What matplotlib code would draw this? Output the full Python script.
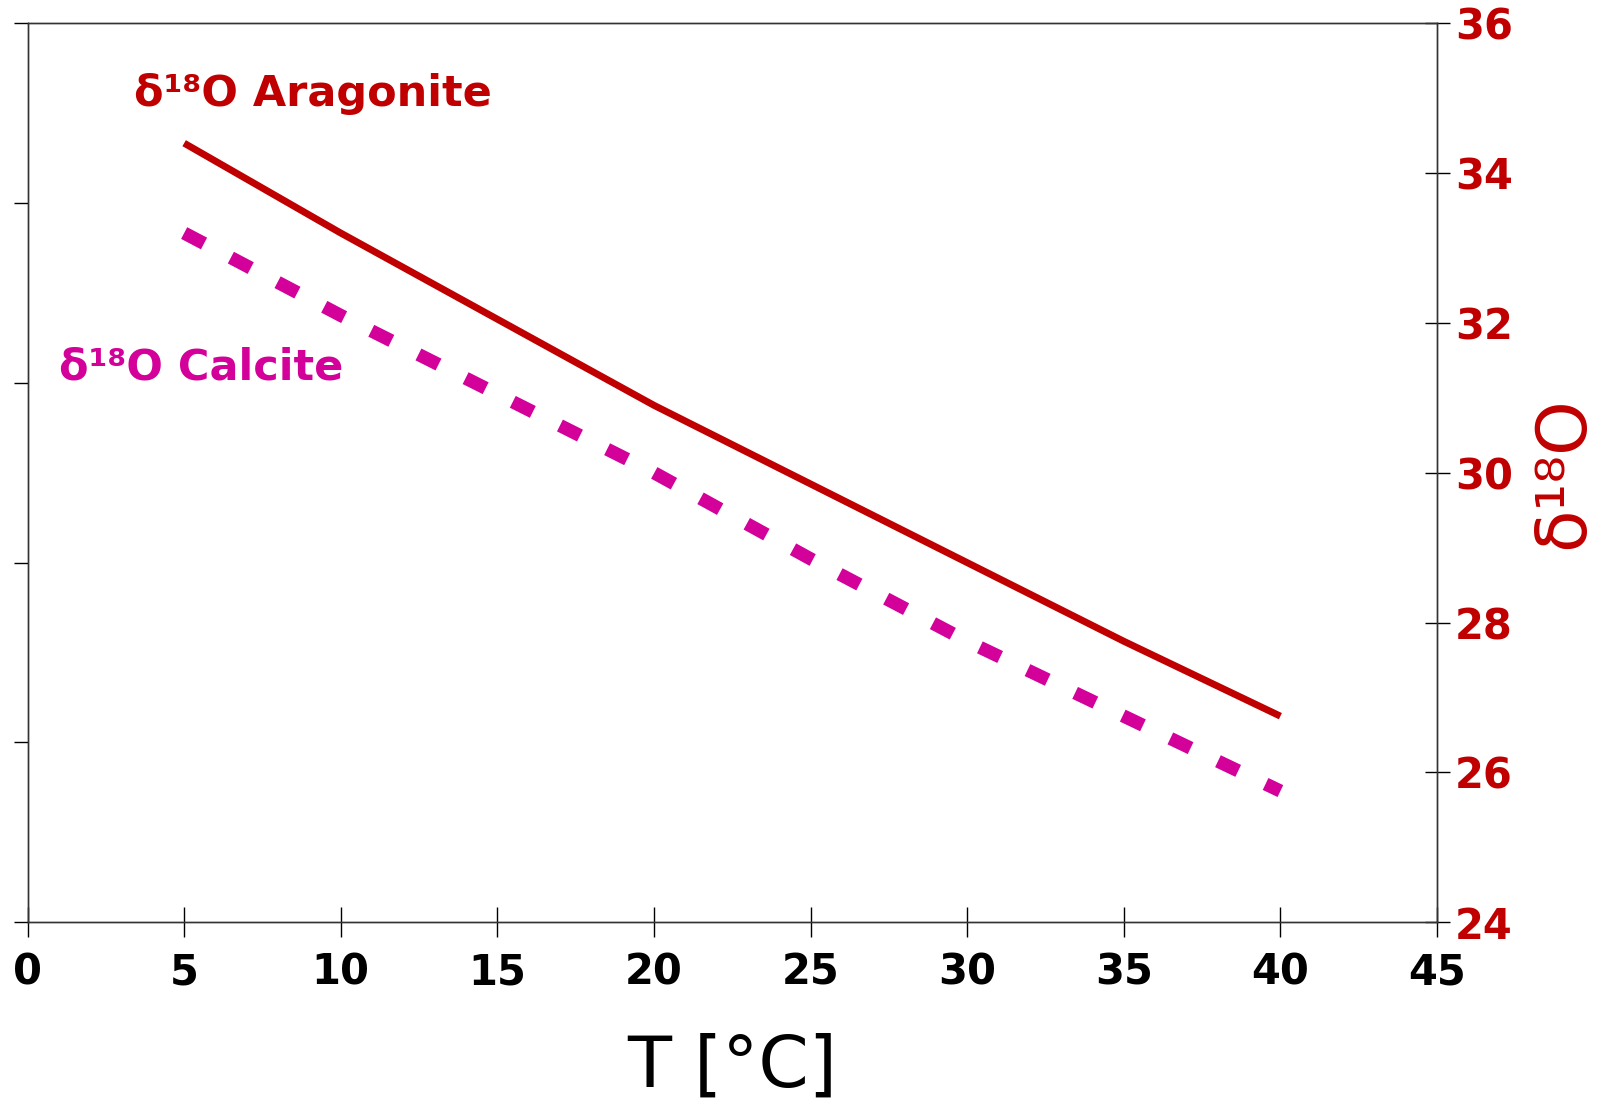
import matplotlib.pyplot as plt

# Temperature [°C] and d18O values for the two carbonate curves
temp = [5, 10, 15, 20, 25, 30, 35, 40]
d18o_aragonite = [34.4, 33.2, 32.05, 30.9, 29.85, 28.8, 27.75, 26.75]
d18o_calcite = [33.2, 32.1, 31.05, 30.0, 28.85, 27.75, 26.75, 25.75]

x_ticks = [0, 5, 10, 15, 20, 25, 30, 35, 40, 45]
y_ticks = [24, 26, 28, 30, 32, 34, 36]

red = '#c00000'
magenta = '#d4009a'

fig = plt.figure(figsize=(16.02, 11.11), dpi=100)
ax = fig.add_axes([0.0172, 0.170, 0.8798, 0.809])

# unlabeled ticks on the left side
ax_left = ax.twinx()
ax_left.set_ylim(0, 5)
ax_left.set_yticks(range(6))
ax_left.yaxis.tick_left()
ax_left.tick_params(axis='y', direction='out', length=10, width=1,
                    labelleft=False)

ax.plot(temp, d18o_aragonite, color=red, lw=5, solid_capstyle='butt')
ax.plot(temp, d18o_calcite, color=magenta, lw=9.5, dashes=(1.7, 2.3),
        dash_capstyle='butt')

ax.set_xlim(0, 45)
ax.set_ylim(24, 36)
ax.set_xticks(x_ticks)
ax.set_yticks(y_ticks)

# y values shown on the right side
ax.yaxis.tick_right()
ax.yaxis.set_label_position('right')
ax.tick_params(axis='y', direction='inout', length=18, width=1,
               labelsize=30, labelcolor=red, pad=4)
ax.tick_params(axis='x', direction='inout', length=22, width=1,
               labelsize=30, pad=10)
for lbl in ax.get_xticklabels() + ax.get_yticklabels():
    lbl.set_fontweight('bold')

for a in (ax, ax_left):
    for side in ['left', 'right', 'top', 'bottom']:
        a.spines[side].set_linewidth(1)
        a.spines[side].set_color('#333333')

ax.set_xlabel('T [°C]', fontsize=52, labelpad=28)
ax.set_ylabel('δ¹⁸O', fontsize=50, color=red, rotation=90, labelpad=12)

ax.text(3.4, 35.05, 'δ¹⁸O Aragonite', color=red, fontsize=31,
        fontweight='bold', va='center', ha='left')
ax.text(1.0, 31.4, 'δ¹⁸O Calcite', color=magenta, fontsize=31,
        fontweight='bold', va='center', ha='left')

fig.savefig('out.png', dpi=100)
